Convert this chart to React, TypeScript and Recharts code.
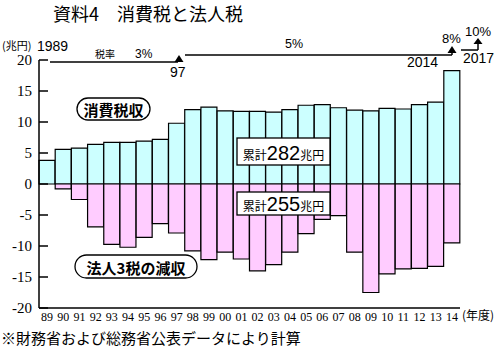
import { BarChart, Bar, XAxis, YAxis } from 'recharts';

const years = [
  '89', '90', '91', '92', '93', '94', '95', '96', '97', '98', '99', '00', '01',
  '02', '03', '04', '05', '06', '07', '08', '09', '10', '11', '12', '13', '14',
];
// 消費税収 (兆円)
const consumptionTax = [
  3.8, 5.6, 5.8, 6.4, 6.7, 6.7, 6.9, 7.2, 9.8, 12.0, 12.4, 11.8, 11.7,
  11.7, 11.6, 12.0, 12.7, 12.8, 12.3, 11.9, 11.8, 12.2, 12.1, 12.8, 13.2, 18.3,
];
// 法人3税の減収 (兆円)
const corporateLoss = [
  0, -0.8, -2.5, -6.9, -9.75, -10.2, -8.6, -6.4, -7.9, -10.8, -12.2, -11.0, -12.1,
  -14.0, -13.0, -11.0, -8.0, -5.7, -5.1, -11.0, -17.5, -14.5, -13.7, -13.6, -13.3, -9.5,
];
const yTicks = [20, 15, 10, 5, 0, -5, -10, -15, -20];

const data = years.map((year, i) => ({
  year,
  consumption: consumptionTax[i],
  corporate: corporateLoss[i],
}));

const CJK = '"Noto Sans CJK JP", sans-serif';
const SANS = '"Liberation Sans", Arial, sans-serif';
const SERIF = '"Liberation Serif", "Times New Roman", serif';

function YTick(props: any) {
  const { x, y, payload } = props;
  return (
    <g>
      <text
        x={x}
        y={y}
        textAnchor="end"
        dominantBaseline="central"
        fontSize={15}
        fontFamily={SERIF}
        fill="#000"
      >
        {payload.value}
      </text>
      <line x1={x + 7} x2={x + 16} y1={y} y2={y} stroke="#000" strokeWidth={1.5} />
    </g>
  );
}

function Arrow({ x, tip, base }: { x: number; tip: number; base: number }) {
  return <polygon points={`${x},${tip} ${x - 4.5},${base} ${x + 4.5},${base}`} fill="#000" />;
}

function Annotations() {
  return (
    <svg
      width={500}
      height={351}
      style={{ position: 'absolute', left: 0, top: 0, pointerEvents: 'none' }}
    >
      <text x={53} y={21} fontSize={18} fontFamily={CJK} fill="#000">
        資料4　消費税と法人税
      </text>

      <text x={2} y={50} fontSize={11} fontFamily={CJK} fill="#000">(兆円)</text>
      <text x={37} y={51} fontSize={14} fontFamily={SANS} fill="#000">1989</text>

      {/* tax rate steps */}
      <line x1={50} x2={178} y1={62} y2={62} stroke="#000" strokeWidth={1.5} />
      <Arrow x={179} tip={55} base={62} />
      <text x={95} y={58} fontSize={10} fontFamily={CJK} fill="#000">税率</text>
      <text x={135} y={58} fontSize={12} fontFamily={SANS} fill="#000">3%</text>
      <text x={170} y={77} fontSize={14} fontFamily={SANS} fill="#000">97</text>

      <line x1={185} x2={452} y1={55} y2={55} stroke="#000" strokeWidth={1.5} />
      <line x1={452} x2={452} y1={55} y2={52} stroke="#000" strokeWidth={1.5} />
      <Arrow x={452} tip={46} base={53} />
      <text x={285} y={48} fontSize={12.5} fontFamily={SANS} fill="#000">5%</text>
      <text x={407} y={67} fontSize={14} fontFamily={SANS} fill="#000">2014</text>
      <text x={442} y={43} fontSize={13} fontFamily={SANS} fill="#000">8%</text>

      <line x1={461} x2={478} y1={50} y2={50} stroke="#000" strokeWidth={1.5} />
      <line x1={478} x2={478} y1={50} y2={44} stroke="#000" strokeWidth={1.5} />
      <Arrow x={478} tip={38} base={44} />
      <text x={465} y={36} fontSize={13} fontFamily={SANS} fill="#000">10%</text>
      <text x={463} y={63} fontSize={14} fontFamily={SANS} fill="#000">2017</text>

      {/* labels inside plot */}
      <rect x={77} y={98} width={73} height={22} rx={11} fill="#fff" stroke="#000" strokeWidth={1.3} />
      <text x={113.5} y={109.5} textAnchor="middle" dominantBaseline="central" fontSize={15} fontWeight="bold" fontFamily={CJK} fill="#000">
        消費税収
      </text>

      <rect x={75} y={255} width={122} height={23} rx={11.5} fill="#fff" stroke="#000" strokeWidth={1.3} />
      <text x={136} y={267} textAnchor="middle" dominantBaseline="central" fontSize={15} fontWeight="bold" fontFamily={CJK} fill="#000">
        法人3税の減収
      </text>

      <rect x={237} y={138} width={93} height={27} fill="#fff" stroke="#000" strokeWidth={1.3} />
      <text x={283.5} y={160} textAnchor="middle" fill="#000">
        <tspan fontSize={12} fontFamily={CJK}>累計</tspan>
        <tspan fontSize={20} fontFamily={SANS}>282</tspan>
        <tspan fontSize={12} fontFamily={CJK}>兆円</tspan>
      </text>

      <rect x={237} y={192} width={93} height={23} fill="#fff" stroke="#000" strokeWidth={1.3} />
      <text x={283.5} y={211} textAnchor="middle" fill="#000">
        <tspan fontSize={12} fontFamily={CJK}>累計</tspan>
        <tspan fontSize={20} fontFamily={SANS}>255</tspan>
        <tspan fontSize={12} fontFamily={CJK}>兆円</tspan>
      </text>

      <text x={462} y={320} fontSize={12} fontFamily={CJK} fill="#000">(年度)</text>
      <text x={1} y={344} fontSize={15} fontFamily={CJK} fill="#000">
        ※財務省および総務省公表データにより計算
      </text>
    </svg>
  );
}

export default function App() {
  return (
    <div style={{ position: 'absolute', left: 0, top: 0, width: 500, height: 351, background: '#fff' }}>
      <BarChart
        width={500}
        height={351}
        data={data}
        stackOffset="sign"
        barCategoryGap={0}
        margin={{ top: 60, right: 40, bottom: 13, left: 0 }}
      >
        <XAxis
          dataKey="year"
          interval={0}
          tickLine={false}
          tickSize={0}
          tickMargin={4}
          axisLine={{ stroke: '#000', strokeWidth: 1.5 }}
          tick={{ fontSize: 12, fontFamily: SERIF, fill: '#000' }}
          height={30}
        />
        <YAxis
          width={39}
          domain={[-20, 20]}
          ticks={yTicks}
          interval={0}
          tickLine={false}
          tickSize={0}
          tickMargin={7}
          axisLine={{ stroke: '#000', strokeWidth: 1.5 }}
          tick={YTick}
        />
        <Bar
          dataKey="consumption"
          stackId="a"
          fill="#ccffff"
          stroke="#000"
          strokeWidth={1.2}
          isAnimationActive={false}
        />
        <Bar
          dataKey="corporate"
          stackId="a"
          fill="#ffccff"
          stroke="#000"
          strokeWidth={1.2}
          isAnimationActive={false}
        />
      </BarChart>
      <Annotations />
    </div>
  );
}
